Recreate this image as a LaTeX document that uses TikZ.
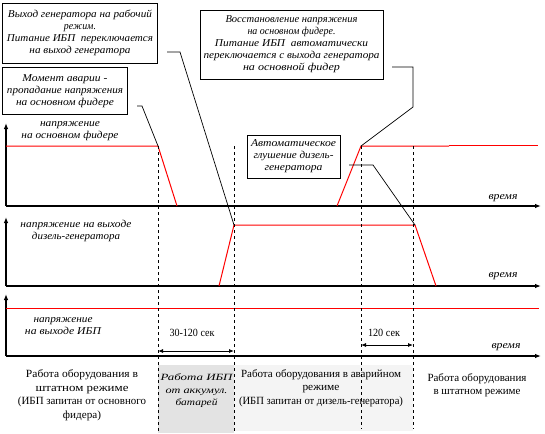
\documentclass[tikz,border=0pt]{standalone}
\usepackage{fontspec}
\setmainfont{Liberation Serif}
\usetikzlibrary{arrows.meta}
\newcommand{\fw}[2]{\resizebox{#1pt}{\height}{#2}}
\begin{document}
\begin{tikzpicture}[x=1pt,y=-1pt,
 axis/.style={line width=1.1pt,-{Latex[length=6pt,width=4.5pt]}},
 sig/.style={red,line width=1pt},
 lead/.style={black,line width=0.7pt},
 vdash/.style={line width=0.8pt,dash pattern=on 3pt off 3pt},
 callout/.style={draw,line width=0.8pt,font=\fontsize{10.5}{12}\selectfont\itshape,align=center,inner sep=0pt},
 lab/.style={font=\fontsize{10.5}{12}\selectfont\itshape,align=center,inner sep=0pt},
 body/.style={font=\fontsize{11}{13.5}\selectfont,align=center,inner sep=0pt},
 dim/.style={line width=0.8pt,{Latex[length=5pt,width=4pt]}-{Latex[length=5pt,width=4pt]}}
]
\useasboundingbox (0,0) rectangle (545,433);
% shaded regions
\fill[gray!22] (158,365) rectangle (234,433);
\fill[gray!9] (234,365) rectangle (413,431);
% key coordinates
\coordinate (o1) at (6,206);   \coordinate (t1) at (6,123);  \coordinate (e1) at (541,206);
\coordinate (o2) at (6,286);   \coordinate (t2) at (6,217);  \coordinate (e2) at (541,286);
\coordinate (o3) at (6,356);   \coordinate (t3) at (6,294);  \coordinate (e3) at (541,356);
% axes
\draw[axis] (o1) -- (t1);
\draw[axis] (o1) -- (e1);
\draw[axis] (o2) -- (t2);
\draw[axis] (o2) -- (e2);
\draw[axis] (o3) -- (t3);
\draw[axis] (o3) -- (e3);
% signal corners
\coordinate (a0) at (6,146);   \coordinate (a1) at (158,146); \coordinate (a2) at (177,206);
\coordinate (a3) at (337,206); \coordinate (a4) at (361,146); \coordinate (a5) at (449,146);
\coordinate (a6) at (449,145); \coordinate (a7) at (538,145);
\coordinate (b0) at (219,286); \coordinate (b1) at (234,225); \coordinate (b2) at (415,225);
\coordinate (b3) at (436,286);
\coordinate (c0) at (6,308);   \coordinate (c1) at (539,308);
\draw[sig] (a0) -- (a1) -- (a2);
\draw[sig] (a3) -- (a4) -- (a5);
\draw[sig] (a6) -- (a7);
\draw[sig] (b0) -- (b1) -- (b2) -- (b3);
\draw[sig] (c0) -- (c1);
% dashed verticals
\coordinate (d1t) at (158,146); \coordinate (d1b) at (158,431);
\coordinate (d2t) at (234,146); \coordinate (d2b) at (234,431);
\coordinate (d3t) at (361,146); \coordinate (d3b) at (361,429);
\coordinate (d4t) at (413,146); \coordinate (d4b) at (413,429);
\draw[vdash] (d1t) -- (d1b);
\draw[vdash] (d2t) -- (d2b);
\draw[vdash] (d3t) -- (d3b);
\draw[vdash] (d4t) -- (d4b);
% callout boxes
\node[callout,minimum width=155pt,minimum height=60pt] (box1) at (80,33)
 {\fw{144}{Выход генератора на рабочий}\\\fw{32}{режим.}\\\fw{146}{Питание ИБП\ \ переключается}\\\fw{101}{на выход генератора}};
\node[callout,minimum width=125pt,minimum height=47pt] (box2) at (65,91)
 {\fw{85}{Момент аварии -}\\\fw{116}{пропадание напряжения}\\\fw{98}{на основном фидере}};
\node[callout,minimum width=183pt,minimum height=69pt] (box3) at (291.5,44.5)
 {\fw{132}{Восстановление напряжения}\\\fw{88}{на основном фидере.}\\\fw{153}{Питание ИБП\ \ автоматически}\\\fw{176}{переключается с выхода генератора}\\\fw{97}{на основной фидер}};
\node[callout,minimum width=93pt,minimum height=43pt] (box4) at (293.5,156.5)
 {\fw{85}{Автоматическое}\\\fw{80}{глушение дизель-}\\\fw{58}{генератора}};
% leaders
\coordinate (l1s) at (167,52);  \coordinate (l1k) at (180,52);
\coordinate (l2s) at (137,106); \coordinate (l2k) at (142,106);
\coordinate (l3s) at (392,67);  \coordinate (l3k) at (413,67); \coordinate (l3m) at (413,107);
\coordinate (l4s) at (349,165); \coordinate (l4k) at (373,165);
\draw[lead] (l1s) -- (l1k) -- (b1);
\draw[lead] (l2s) -- (l2k) -- (a1);
\draw[lead] (l3s) -- (l3k) -- (l3m) -- (a4);
\draw[lead] (l4s) -- (l4k) -- (b2);
% axis labels
\node[lab] (y1) at (70,131) {\fw{60}{напряжение}\\\fw{97}{на основном фидере}};
\node[lab] (y2) at (76,230.5) {\fw{111}{напряжение на выходе}\\\fw{88}{дизель-генератора}};
\node[lab] (y3) at (63,326.5) {\fw{59}{напряжение}\\\fw{76}{на выходе ИБП}};
\node[lab] (x1) at (503,198) {\fw{29}{время}};
\node[lab] (x2) at (503,276) {\fw{29}{время}};
\node[lab] (x3) at (506,347) {\fw{29}{время}};
% durations
\coordinate (m1l) at (158,351); \coordinate (m1r) at (234,351);
\coordinate (m2l) at (361,345); \coordinate (m2r) at (413,345);
\draw[dim] (m1l) -- (m1r);
\draw[dim] (m2l) -- (m2r);
\node[body] (t30) at (192,333) {\fw{45}{30-120 сек}};
\node[body] (t120) at (384,333) {\fw{32}{120 сек}};
% bottom texts
\node[body] (p1) at (82,395) {\fw{112}{Работа оборудования в}\\\fw{93}{штатном режиме}\\\fw{128}{(ИБП запитан от основного}\\\fw{38}{фидера)}};
\node[body,font=\fontsize{9.5}{12.5}\selectfont\itshape] (p2) at (196.5,391) {\fw{72}{Работа ИБП}\\\fw{62}{от аккумул.}\\\fw{42}{батарей}};
\node[body] (p3) at (321,388) {\fw{160}{Работа оборудования в аварийном}\\\fw{37}{режиме}\\\fw{164}{(ИБП запитан от дизель-генератора)}};
\node[body] (p4) at (477,385) {\fw{99}{Работа оборудования}\\\fw{87}{в штатном режиме}};
\end{tikzpicture}
\end{document}
